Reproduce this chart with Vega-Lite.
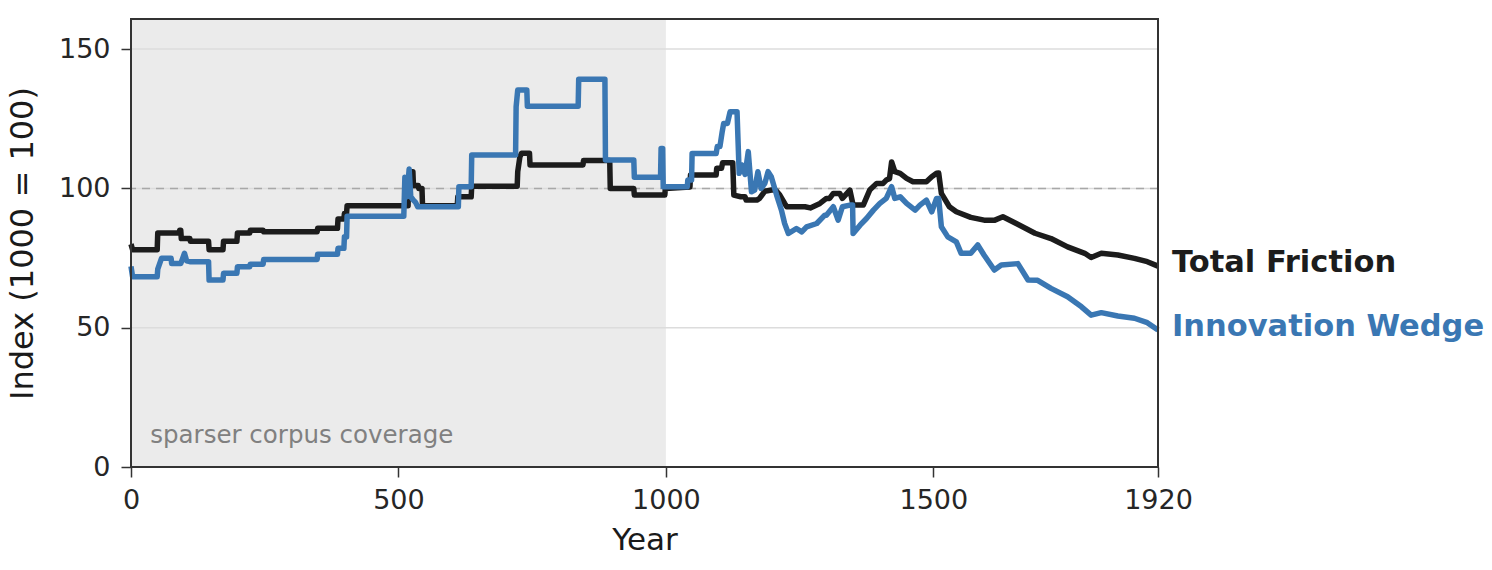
{
  "$schema": "https://vega.github.io/schema/vega-lite/v6.json",
  "width": 1027,
  "height": 448,
  "autosize": {"type": "none"},
  "padding": {"left": 131, "top": 19, "right": 334, "bottom": 103},
  "background": "white",
  "config": {
    "view": {"stroke": null},
    "font": "DejaVu Sans",
    "axis": {
      "labelFont": "DejaVu Sans", "titleFont": "DejaVu Sans",
      "labelFontSize": 27, "titleFontSize": 31, "titleFontWeight": "normal",
      "labelColor": "#262626", "titleColor": "#1a1a1a",
      "tickColor": "#333333", "tickSize": 10, "tickWidth": 1.5,
      "domain": false, "grid": false
    }
  },
  "datasets": {
    "lines": [
      {"series":"Total Friction","year":0,"value":80},
      {"series":"Total Friction","year":3,"value":78},
      {"series":"Total Friction","year":49,"value":78},
      {"series":"Total Friction","year":50,"value":84},
      {"series":"Total Friction","year":90,"value":84},
      {"series":"Total Friction","year":91,"value":85},
      {"series":"Total Friction","year":93,"value":85},
      {"series":"Total Friction","year":94,"value":82},
      {"series":"Total Friction","year":110,"value":82},
      {"series":"Total Friction","year":111,"value":81},
      {"series":"Total Friction","year":145,"value":81},
      {"series":"Total Friction","year":146,"value":78},
      {"series":"Total Friction","year":172,"value":78},
      {"series":"Total Friction","year":173,"value":81},
      {"series":"Total Friction","year":198,"value":81},
      {"series":"Total Friction","year":199,"value":84},
      {"series":"Total Friction","year":222,"value":84},
      {"series":"Total Friction","year":223,"value":85},
      {"series":"Total Friction","year":247,"value":85},
      {"series":"Total Friction","year":248,"value":84.4},
      {"series":"Total Friction","year":348,"value":84.4},
      {"series":"Total Friction","year":349,"value":85.7},
      {"series":"Total Friction","year":386,"value":85.7},
      {"series":"Total Friction","year":387,"value":89},
      {"series":"Total Friction","year":398,"value":89},
      {"series":"Total Friction","year":399,"value":91},
      {"series":"Total Friction","year":403,"value":91},
      {"series":"Total Friction","year":404,"value":93.8},
      {"series":"Total Friction","year":518,"value":93.8},
      {"series":"Total Friction","year":519,"value":103},
      {"series":"Total Friction","year":522,"value":106},
      {"series":"Total Friction","year":527,"value":106},
      {"series":"Total Friction","year":528,"value":101},
      {"series":"Total Friction","year":537,"value":101},
      {"series":"Total Friction","year":538,"value":100},
      {"series":"Total Friction","year":544,"value":100},
      {"series":"Total Friction","year":545,"value":93.8},
      {"series":"Total Friction","year":610,"value":93.8},
      {"series":"Total Friction","year":611,"value":97},
      {"series":"Total Friction","year":636,"value":97},
      {"series":"Total Friction","year":637,"value":100.8},
      {"series":"Total Friction","year":722,"value":100.8},
      {"series":"Total Friction","year":723,"value":106},
      {"series":"Total Friction","year":727,"value":111.3},
      {"series":"Total Friction","year":730,"value":112.6},
      {"series":"Total Friction","year":745,"value":112.6},
      {"series":"Total Friction","year":746,"value":108.4},
      {"series":"Total Friction","year":845,"value":108.4},
      {"series":"Total Friction","year":846,"value":110},
      {"series":"Total Friction","year":895,"value":110},
      {"series":"Total Friction","year":896,"value":100},
      {"series":"Total Friction","year":940,"value":100},
      {"series":"Total Friction","year":941,"value":97.6},
      {"series":"Total Friction","year":998,"value":97.6},
      {"series":"Total Friction","year":999,"value":100},
      {"series":"Total Friction","year":1045,"value":100.5},
      {"series":"Total Friction","year":1046,"value":104.8},
      {"series":"Total Friction","year":1094,"value":104.8},
      {"series":"Total Friction","year":1095,"value":107.2},
      {"series":"Total Friction","year":1104,"value":107.2},
      {"series":"Total Friction","year":1106,"value":109.2},
      {"series":"Total Friction","year":1125,"value":109.2},
      {"series":"Total Friction","year":1127,"value":97.6},
      {"series":"Total Friction","year":1140,"value":97},
      {"series":"Total Friction","year":1148,"value":97},
      {"series":"Total Friction","year":1150,"value":95.8},
      {"series":"Total Friction","year":1170,"value":95.8},
      {"series":"Total Friction","year":1175,"value":96.4},
      {"series":"Total Friction","year":1185,"value":99},
      {"series":"Total Friction","year":1200,"value":99.5},
      {"series":"Total Friction","year":1207,"value":99},
      {"series":"Total Friction","year":1213,"value":97.6},
      {"series":"Total Friction","year":1222,"value":94.6},
      {"series":"Total Friction","year":1226,"value":93.4},
      {"series":"Total Friction","year":1260,"value":93.4},
      {"series":"Total Friction","year":1270,"value":93},
      {"series":"Total Friction","year":1288,"value":94.6},
      {"series":"Total Friction","year":1300,"value":96.4},
      {"series":"Total Friction","year":1306,"value":96.4},
      {"series":"Total Friction","year":1313,"value":98.2},
      {"series":"Total Friction","year":1325,"value":98.2},
      {"series":"Total Friction","year":1330,"value":96.4},
      {"series":"Total Friction","year":1344,"value":99.4},
      {"series":"Total Friction","year":1350,"value":94},
      {"series":"Total Friction","year":1369,"value":94},
      {"series":"Total Friction","year":1381,"value":99.4},
      {"series":"Total Friction","year":1394,"value":101.8},
      {"series":"Total Friction","year":1406,"value":101.8},
      {"series":"Total Friction","year":1412,"value":103},
      {"series":"Total Friction","year":1418,"value":103.5},
      {"series":"Total Friction","year":1422,"value":109.5},
      {"series":"Total Friction","year":1428,"value":106},
      {"series":"Total Friction","year":1438,"value":105.4},
      {"series":"Total Friction","year":1450,"value":103.6},
      {"series":"Total Friction","year":1462,"value":102.4},
      {"series":"Total Friction","year":1487,"value":102.4},
      {"series":"Total Friction","year":1497,"value":104.2},
      {"series":"Total Friction","year":1506,"value":105.4},
      {"series":"Total Friction","year":1510,"value":105.5},
      {"series":"Total Friction","year":1515,"value":98.2},
      {"series":"Total Friction","year":1530,"value":93.4},
      {"series":"Total Friction","year":1543,"value":91.6},
      {"series":"Total Friction","year":1570,"value":89.6},
      {"series":"Total Friction","year":1595,"value":88.6},
      {"series":"Total Friction","year":1615,"value":88.6},
      {"series":"Total Friction","year":1630,"value":89.8},
      {"series":"Total Friction","year":1655,"value":87.4},
      {"series":"Total Friction","year":1690,"value":83.9},
      {"series":"Total Friction","year":1720,"value":82},
      {"series":"Total Friction","year":1751,"value":79},
      {"series":"Total Friction","year":1783,"value":76.7},
      {"series":"Total Friction","year":1795,"value":75.2},
      {"series":"Total Friction","year":1814,"value":76.7},
      {"series":"Total Friction","year":1845,"value":76.1},
      {"series":"Total Friction","year":1876,"value":74.9},
      {"series":"Total Friction","year":1900,"value":73.7},
      {"series":"Total Friction","year":1920,"value":72.1},

      {"series":"Innovation Wedge","year":0,"value":72},
      {"series":"Innovation Wedge","year":3,"value":68.3},
      {"series":"Innovation Wedge","year":49,"value":68.3},
      {"series":"Innovation Wedge","year":50,"value":71},
      {"series":"Innovation Wedge","year":57,"value":74.9},
      {"series":"Innovation Wedge","year":75,"value":74.9},
      {"series":"Innovation Wedge","year":76,"value":73},
      {"series":"Innovation Wedge","year":93,"value":73},
      {"series":"Innovation Wedge","year":100,"value":76.7},
      {"series":"Innovation Wedge","year":104,"value":74},
      {"series":"Innovation Wedge","year":110,"value":73.7},
      {"series":"Innovation Wedge","year":145,"value":73.7},
      {"series":"Innovation Wedge","year":146,"value":67.1},
      {"series":"Innovation Wedge","year":172,"value":67.1},
      {"series":"Innovation Wedge","year":173,"value":69.5},
      {"series":"Innovation Wedge","year":198,"value":69.5},
      {"series":"Innovation Wedge","year":199,"value":71.9},
      {"series":"Innovation Wedge","year":222,"value":71.9},
      {"series":"Innovation Wedge","year":223,"value":72.8},
      {"series":"Innovation Wedge","year":247,"value":72.8},
      {"series":"Innovation Wedge","year":248,"value":74.5},
      {"series":"Innovation Wedge","year":348,"value":74.5},
      {"series":"Innovation Wedge","year":349,"value":76.4},
      {"series":"Innovation Wedge","year":386,"value":76.4},
      {"series":"Innovation Wedge","year":387,"value":78.5},
      {"series":"Innovation Wedge","year":398,"value":78.5},
      {"series":"Innovation Wedge","year":399,"value":82.6},
      {"series":"Innovation Wedge","year":403,"value":82.6},
      {"series":"Innovation Wedge","year":404,"value":90},
      {"series":"Innovation Wedge","year":510,"value":90},
      {"series":"Innovation Wedge","year":512,"value":104},
      {"series":"Innovation Wedge","year":516,"value":97},
      {"series":"Innovation Wedge","year":520,"value":107},
      {"series":"Innovation Wedge","year":523,"value":97},
      {"series":"Innovation Wedge","year":527,"value":96},
      {"series":"Innovation Wedge","year":532,"value":95},
      {"series":"Innovation Wedge","year":536,"value":93.4},
      {"series":"Innovation Wedge","year":612,"value":93.4},
      {"series":"Innovation Wedge","year":613,"value":100.6},
      {"series":"Innovation Wedge","year":636,"value":100.6},
      {"series":"Innovation Wedge","year":637,"value":112},
      {"series":"Innovation Wedge","year":719,"value":112},
      {"series":"Innovation Wedge","year":720,"value":129.3},
      {"series":"Innovation Wedge","year":723,"value":135.3},
      {"series":"Innovation Wedge","year":740,"value":135.3},
      {"series":"Innovation Wedge","year":741,"value":129.5},
      {"series":"Innovation Wedge","year":836,"value":129.5},
      {"series":"Innovation Wedge","year":837,"value":139.2},
      {"series":"Innovation Wedge","year":886,"value":139.2},
      {"series":"Innovation Wedge","year":887,"value":110.2},
      {"series":"Innovation Wedge","year":940,"value":110.2},
      {"series":"Innovation Wedge","year":941,"value":104},
      {"series":"Innovation Wedge","year":990,"value":104},
      {"series":"Innovation Wedge","year":991,"value":114.3},
      {"series":"Innovation Wedge","year":994,"value":114.3},
      {"series":"Innovation Wedge","year":995,"value":100.6},
      {"series":"Innovation Wedge","year":1040,"value":100.6},
      {"series":"Innovation Wedge","year":1041,"value":103},
      {"series":"Innovation Wedge","year":1048,"value":103},
      {"series":"Innovation Wedge","year":1049,"value":112.5},
      {"series":"Innovation Wedge","year":1094,"value":112.5},
      {"series":"Innovation Wedge","year":1096,"value":115},
      {"series":"Innovation Wedge","year":1101,"value":115},
      {"series":"Innovation Wedge","year":1105,"value":120},
      {"series":"Innovation Wedge","year":1108,"value":123.3},
      {"series":"Innovation Wedge","year":1115,"value":123.3},
      {"series":"Innovation Wedge","year":1120,"value":127.5},
      {"series":"Innovation Wedge","year":1133,"value":127.5},
      {"series":"Innovation Wedge","year":1137,"value":105.4},
      {"series":"Innovation Wedge","year":1142,"value":108.4},
      {"series":"Innovation Wedge","year":1148,"value":105},
      {"series":"Innovation Wedge","year":1154,"value":113.2},
      {"series":"Innovation Wedge","year":1160,"value":98.8},
      {"series":"Innovation Wedge","year":1166,"value":99.4},
      {"series":"Innovation Wedge","year":1172,"value":106},
      {"series":"Innovation Wedge","year":1178,"value":100},
      {"series":"Innovation Wedge","year":1185,"value":101.8},
      {"series":"Innovation Wedge","year":1191,"value":106},
      {"series":"Innovation Wedge","year":1197,"value":104.2},
      {"series":"Innovation Wedge","year":1207,"value":97.6},
      {"series":"Innovation Wedge","year":1216,"value":92.2},
      {"series":"Innovation Wedge","year":1222,"value":87.4},
      {"series":"Innovation Wedge","year":1229,"value":83.8},
      {"series":"Innovation Wedge","year":1244,"value":85.6},
      {"series":"Innovation Wedge","year":1254,"value":84.4},
      {"series":"Innovation Wedge","year":1263,"value":86.2},
      {"series":"Innovation Wedge","year":1282,"value":87.4},
      {"series":"Innovation Wedge","year":1297,"value":90.4},
      {"series":"Innovation Wedge","year":1300,"value":90.4},
      {"series":"Innovation Wedge","year":1313,"value":93.4},
      {"series":"Innovation Wedge","year":1322,"value":88.6},
      {"series":"Innovation Wedge","year":1330,"value":93.4},
      {"series":"Innovation Wedge","year":1344,"value":94},
      {"series":"Innovation Wedge","year":1349,"value":94},
      {"series":"Innovation Wedge","year":1350,"value":83.8},
      {"series":"Innovation Wedge","year":1363,"value":86.8},
      {"series":"Innovation Wedge","year":1375,"value":89.2},
      {"series":"Innovation Wedge","year":1388,"value":92.2},
      {"series":"Innovation Wedge","year":1400,"value":94.6},
      {"series":"Innovation Wedge","year":1412,"value":96.4},
      {"series":"Innovation Wedge","year":1422,"value":100.6},
      {"series":"Innovation Wedge","year":1428,"value":96.4},
      {"series":"Innovation Wedge","year":1438,"value":97},
      {"series":"Innovation Wedge","year":1450,"value":94.6},
      {"series":"Innovation Wedge","year":1466,"value":92.2},
      {"series":"Innovation Wedge","year":1475,"value":94},
      {"series":"Innovation Wedge","year":1487,"value":95.8},
      {"series":"Innovation Wedge","year":1497,"value":91.6},
      {"series":"Innovation Wedge","year":1506,"value":96.4},
      {"series":"Innovation Wedge","year":1510,"value":96.4},
      {"series":"Innovation Wedge","year":1515,"value":86.2},
      {"series":"Innovation Wedge","year":1527,"value":82.6},
      {"series":"Innovation Wedge","year":1543,"value":80.8},
      {"series":"Innovation Wedge","year":1552,"value":76.7},
      {"series":"Innovation Wedge","year":1570,"value":76.7},
      {"series":"Innovation Wedge","year":1583,"value":79.7},
      {"series":"Innovation Wedge","year":1595,"value":76},
      {"series":"Innovation Wedge","year":1614,"value":70.7},
      {"series":"Innovation Wedge","year":1627,"value":72.5},
      {"series":"Innovation Wedge","year":1658,"value":73},
      {"series":"Innovation Wedge","year":1677,"value":67.1},
      {"series":"Innovation Wedge","year":1695,"value":67},
      {"series":"Innovation Wedge","year":1720,"value":64.1},
      {"series":"Innovation Wedge","year":1751,"value":61.1},
      {"series":"Innovation Wedge","year":1777,"value":57.5},
      {"series":"Innovation Wedge","year":1795,"value":54.5},
      {"series":"Innovation Wedge","year":1814,"value":55.4},
      {"series":"Innovation Wedge","year":1845,"value":54.2},
      {"series":"Innovation Wedge","year":1876,"value":53.4},
      {"series":"Innovation Wedge","year":1900,"value":51.8},
      {"series":"Innovation Wedge","year":1920,"value":49.2}
    ],
    "labels": [
      {"series":"Total Friction","year":1920,"value":73.2},
      {"series":"Innovation Wedge","year":1920,"value":50.2}
    ],
    "grid": [{"v":50},{"v":100},{"v":150}],
    "shade": [{"start":0,"end":1000,"note":"sparser corpus coverage","ny":8.7,"nx":36}]
  },
  "layer": [
    {
      "data": {"name":"shade"},
      "mark": {"type":"rect","fill":"#ebebeb"},
      "encoding": {
        "x": {"field":"start","type":"quantitative",
          "scale":{"domain":[0,1920],"nice":false,"zero":false},
          "axis":{"values":[0,500,1000,1500,1920],"format":"d","title":"Year","titleFontSize":31,"labelPadding":10,"titlePadding":12,"labelFlush":false}},
        "x2": {"field":"end"}
      }
    },
    {
      "data": {"name":"grid"},
      "mark": {"type":"rule","color":"#dcdcdc","strokeWidth":1.5},
      "encoding": {
        "y": {"field":"v","type":"quantitative",
          "scale":{"domain":[0,160.8],"nice":false},
          "axis":{"values":[0,50,100,150],"format":"d","title":"Index (1000 = 100)","titleFontSize":32,"labelPadding":11,"titlePadding":19}}
      }
    },
    {
      "data": {"values":[{"v":100}]},
      "mark": {"type":"rule","color":"#a8a8a8","strokeWidth":1.5,"strokeDash":[8,6]},
      "encoding": {"y": {"field":"v","type":"quantitative"}}
    },
    {
      "data": {"name":"lines"},
      "mark": {"type":"line","strokeWidth":5.5,"strokeJoin":"round","strokeCap":"butt"},
      "encoding": {
        "x": {"field":"year","type":"quantitative"},
        "y": {"field":"value","type":"quantitative"},
        "color": {"field":"series","type":"nominal",
          "scale":{"domain":["Total Friction","Innovation Wedge"],"range":["#1c1c1c","#3a77b3"]},
          "legend":null}
      }
    },
    {
      "data": {"name":"labels"},
      "mark": {"type":"text","align":"left","baseline":"middle","dx":14,"fontSize":30.5,"fontWeight":"bold","font":"DejaVu Sans"},
      "encoding": {
        "x": {"field":"year","type":"quantitative"},
        "y": {"field":"value","type":"quantitative"},
        "text": {"field":"series"},
        "color": {"field":"series","type":"nominal","legend":null}
      }
    },
    {
      "data": {"name":"shade"},
      "mark": {"type":"text","align":"left","baseline":"alphabetic","fontSize":24.5,"color":"#808080","font":"DejaVu Sans"},
      "encoding": {
        "x": {"field":"nx","type":"quantitative"},
        "y": {"field":"ny","type":"quantitative"},
        "text": {"field":"note"}
      }
    },
    {
      "data": {"values":[{"a":0,"b":1920,"c":0,"d":160.8}]},
      "mark": {"type":"rect","fillOpacity":0,"stroke":"#333333","strokeWidth":2},
      "encoding": {
        "x": {"field":"a","type":"quantitative"},
        "x2": {"field":"b"},
        "y": {"field":"c","type":"quantitative"},
        "y2": {"field":"d"}
      }
    }
  ]
}
